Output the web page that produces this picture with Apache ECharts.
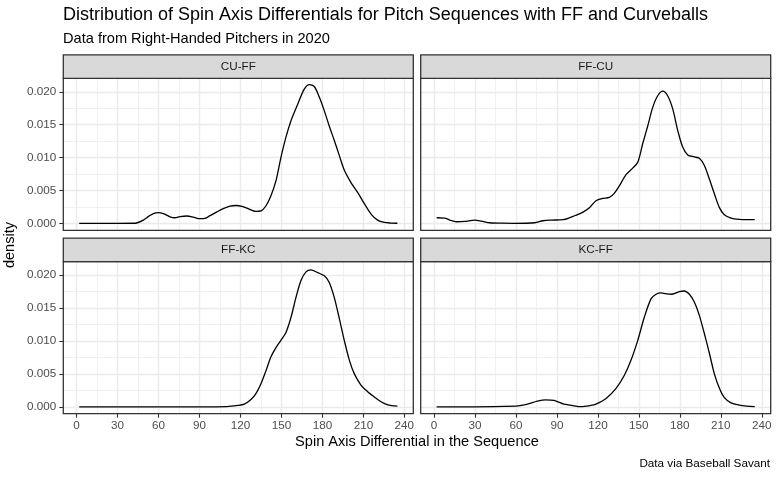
<!DOCTYPE html>
<html>
<head>
  <meta charset="utf-8">
</head>
<body style="margin: 0">
  <div id="container" style="width: 778px; height: 478px"></div>

  <script type="text/javascript" src="https://cdn.jsdelivr.net/npm/echarts@6/dist/echarts.min.js"></script>
  <script type="text/javascript">
    // facet order: top-left, top-right, bottom-left, bottom-right
    const facets = ['CU-FF', 'FF-CU', 'FF-KC', 'KC-FF'];

    const cuffX = [1.9, 10, 20, 30, 43, 48.8, 53, 56.2, 59.8, 63.5, 68.4, 72, 75.7, 80.6, 85.4, 90.3, 94, 97.7, 102.5, 107.4, 112.3, 117, 121, 125.2, 131.3, 135, 138.7, 142.3, 146, 149.6, 153.3, 157, 161.9, 166.7, 170.4, 174, 177.7, 181.4, 185, 188.7, 192.4, 196, 200.9, 205.8, 210.7, 215.6, 220.4, 225.3, 230, 234.9];
    const cuffY = [0, 0, 0, 0, 0.00002, 0.0005, 0.0011, 0.0015, 0.00165, 0.0015, 0.001, 0.00086, 0.00102, 0.00112, 0.00096, 0.00071, 0.00076, 0.00117, 0.00172, 0.00225, 0.00262, 0.00272, 0.00258, 0.00228, 0.00182, 0.0019, 0.00268, 0.0042, 0.0065, 0.0100, 0.0131, 0.0156, 0.0181, 0.0204, 0.0211, 0.0208, 0.0192, 0.0171, 0.0148, 0.0126, 0.0103, 0.0081, 0.0062, 0.0047, 0.0030, 0.00142, 0.0005, 0.00015, 0.00005, 0.00002];

    const ffcuX = [1.9, 7.8, 11.5, 16.4, 22.5, 29.8, 34.7, 40.8, 49.3, 59, 73.7, 79.8, 85.9, 94.5, 99.4, 104.2, 109.1, 114, 118.6, 123.5, 128.4, 132, 135.7, 140.6, 145.5, 149.2, 152.8, 156.5, 160.1, 163.8, 167.5, 171.1, 174.8, 178.5, 182.1, 185.8, 190.7, 194.3, 198, 201.7, 205.3, 209, 212.6, 217.5, 223.6, 229, 234.9];
    const ffcuY = [0.00086, 0.00081, 0.0005, 0.00025, 0.0003, 0.0005, 0.00035, 0.0001, 0.00003, 0.00001, 0.0001, 0.0004, 0.0005, 0.00056, 0.00086, 0.00127, 0.00172, 0.00243, 0.00345, 0.0038, 0.00395, 0.00456, 0.0057, 0.0074, 0.0084, 0.0093, 0.0121, 0.0148, 0.0176, 0.0194, 0.0201, 0.0194, 0.0174, 0.0141, 0.0116, 0.0104, 0.0101, 0.0099, 0.0088, 0.0067, 0.0045, 0.0024, 0.0013, 0.0008, 0.0006, 0.00056, 0.00056];

    const ffkcX = [1.9, 30, 60, 90, 110, 117.9, 122.8, 127.7, 131.3, 135, 138.7, 142.3, 146, 149.6, 153.3, 157, 160.6, 164.3, 168, 171.6, 176.5, 181.4, 185, 188.7, 192.4, 196, 199.7, 203.4, 208.2, 213.1, 218, 222.9, 227.8, 234.9];
    const ffkcY = [0, 0, 0, 0, 0.00003, 0.0002, 0.0004, 0.0011, 0.002, 0.0035, 0.0055, 0.0076, 0.009, 0.0101, 0.0113, 0.0136, 0.0166, 0.0192, 0.0205, 0.0208, 0.0204, 0.0199, 0.0189, 0.0166, 0.0134, 0.0101, 0.0071, 0.005, 0.0033, 0.0023, 0.0015, 0.00076, 0.0003, 0.0001];

    const kcffX = [1.9, 30, 59.8, 64, 68.4, 75.7, 81.8, 87.9, 95.2, 102.5, 107.4, 114.7, 118.6, 126, 133.3, 139.4, 144.3, 149.2, 154, 158.9, 162.6, 166.2, 169.5, 173.6, 179.7, 183.3, 187, 190.7, 194.3, 198, 201.7, 205.3, 209, 212.6, 217.5, 223.6, 229, 234.9];
    const kcffY = [0, 0, 0.0001, 0.0002, 0.0004, 0.00086, 0.00106, 0.00096, 0.0004, 0.00015, 0.00002, 0.0002, 0.0004, 0.00126, 0.0028, 0.0048, 0.0071, 0.0101, 0.0136, 0.0164, 0.0171, 0.0173, 0.0172, 0.0171, 0.0175, 0.0176, 0.0171, 0.0159, 0.0139, 0.0111, 0.0081, 0.005, 0.0028, 0.0014, 0.0006, 0.00025, 0.0001, 0.00002];

    const xTicks = [0, 30, 60, 90, 120, 150, 180, 210, 240];
    const xMinor = [15, 45, 75, 105, 135, 165, 195, 225];
    const yTicks = [0, 0.005, 0.01, 0.015, 0.02];
    const yMinor = [0.0025, 0.0075, 0.0125, 0.0175];

    const seriesX = [cuffX, ffcuX, ffkcX, kcffX];
    const seriesY = [cuffY, ffcuY, ffkcY, kcffY];

    // ggplot style expanded ranges
    const X_MIN = -9.75, X_MAX = 246.55;
    const Y_MIN = -0.00105, Y_MAX = 0.02205;

    const FONT = 'Liberation Sans, Arial, sans-serif';
    const panels = [
      { left: 63.3, top: 78.3 },
      { left: 420.7, top: 78.3 },
      { left: 63.3, top: 261.7 },
      { left: 420.7, top: 261.7 }
    ];
    const PW = 350, PH = 152, STRIP = 23.5;

    var dom = document.getElementById('container');
    var myChart = echarts.init(dom, null, { renderer: 'canvas' });

    const grids = [], xAxes = [], yAxes = [], seriesList = [], graphics = [];

    panels.forEach(function (p, i) {
      const bottomRow = i >= 2;
      const leftCol = i % 2 === 0;
      grids.push({ left: p.left, top: p.top, width: PW, height: PH, containLabel: false });

      xAxes.push({
        gridIndex: i, type: 'value', min: X_MIN, max: X_MAX, position: 'bottom',
        axisLine: { show: false, onZero: false },
        axisTick: { show: bottomRow, customValues: xTicks, length: 4, lineStyle: { color: '#333333', width: 1.1 } },
        axisLabel: { show: bottomRow, customValues: xTicks, color: '#4d4d4d', fontSize: 11.7, fontFamily: FONT, margin: 6 },
        splitLine: { show: true, lineStyle: { color: '#ebebeb', width: 1.4 } }
      });
      xAxes.push({
        gridIndex: i, type: 'value', min: X_MIN, max: X_MAX, position: 'top',
        axisLine: { show: false, onZero: false },
        axisTick: { show: false, customValues: xMinor },
        axisLabel: { show: false, customValues: xMinor },
        splitLine: { show: true, lineStyle: { color: '#ebebeb', width: 0.7 } }
      });
      yAxes.push({
        gridIndex: i, type: 'value', min: Y_MIN, max: Y_MAX, position: 'left',
        axisLine: { show: false, onZero: false },
        axisTick: { show: leftCol, customValues: yTicks, length: 4, lineStyle: { color: '#333333', width: 1.1 } },
        axisLabel: {
          show: leftCol, customValues: yTicks, color: '#4d4d4d', fontSize: 11.7, fontFamily: FONT, margin: 7,
          formatter: function (v) { return v.toFixed(3); }
        },
        splitLine: { show: true, lineStyle: { color: '#ebebeb', width: 1.4 } }
      });
      yAxes.push({
        gridIndex: i, type: 'value', min: Y_MIN, max: Y_MAX, position: 'right',
        axisLine: { show: false, onZero: false },
        axisTick: { show: false, customValues: yMinor },
        axisLabel: { show: false, customValues: yMinor },
        splitLine: { show: true, lineStyle: { color: '#ebebeb', width: 0.7 } }
      });

      seriesList.push({
        type: 'line',
        name: facets[i],
        xAxisIndex: 2 * i,
        yAxisIndex: 2 * i,
        data: seriesX[i].map(function (x, k) { return [x, seriesY[i][k]]; }),
        showSymbol: false,
        symbol: 'none',
        smooth: 0.3,
        lineStyle: { color: '#000000', width: 1.3 },
        z: 5
      });

      // panel border
      graphics.push({
        type: 'rect', z: 100, silent: true,
        shape: { x: p.left, y: p.top, width: PW, height: PH },
        style: { fill: 'none', stroke: '#333333', lineWidth: 1.3 }
      });
      // strip
      graphics.push({
        type: 'rect', z: 100, silent: true,
        shape: { x: p.left, y: p.top - STRIP, width: PW, height: STRIP },
        style: { fill: '#d9d9d9', stroke: '#333333', lineWidth: 1.3 }
      });
      graphics.push({
        type: 'text', z: 101, silent: true,
        x: p.left + PW / 2, y: p.top - STRIP / 2,
        style: { text: facets[i], fill: '#1a1a1a', font: '11.7px ' + FONT, align: 'center', verticalAlign: 'middle' }
      });
    });

    graphics.push(
      {
        type: 'text', x: 63, y: 15.5,
        style: { text: 'Distribution of Spin Axis Differentials for Pitch Sequences with FF and Curveballs', fill: '#000000', font: '18px ' + FONT, align: 'left', verticalAlign: 'middle' }
      },
      {
        type: 'text', x: 63, y: 39.2,
        style: { text: 'Data from Right-Handed Pitchers in 2020', fill: '#000000', font: '14.6px ' + FONT, align: 'left', verticalAlign: 'middle' }
      },
      {
        type: 'text', x: 10, y: 245, rotation: Math.PI / 2,
        style: { text: 'density', fill: '#000000', font: '14.6px ' + FONT, align: 'center', verticalAlign: 'middle' }
      },
      {
        type: 'text', x: 417, y: 442,
        style: { text: 'Spin Axis Differential in the Sequence', fill: '#000000', font: '14.6px ' + FONT, align: 'center', verticalAlign: 'middle' }
      },
      {
        type: 'text', x: 770, y: 464,
        style: { text: 'Data via Baseball Savant', fill: '#000000', font: '11.7px ' + FONT, align: 'right', verticalAlign: 'middle' }
      }
    );

    var option = {
      animation: false,
      backgroundColor: '#ffffff',
      grid: grids,
      xAxis: xAxes,
      yAxis: yAxes,
      series: seriesList,
      graphic: graphics
    };

    if (option && typeof option === 'object') {
      myChart.setOption(option);
    }
  </script>
</body>
</html>
